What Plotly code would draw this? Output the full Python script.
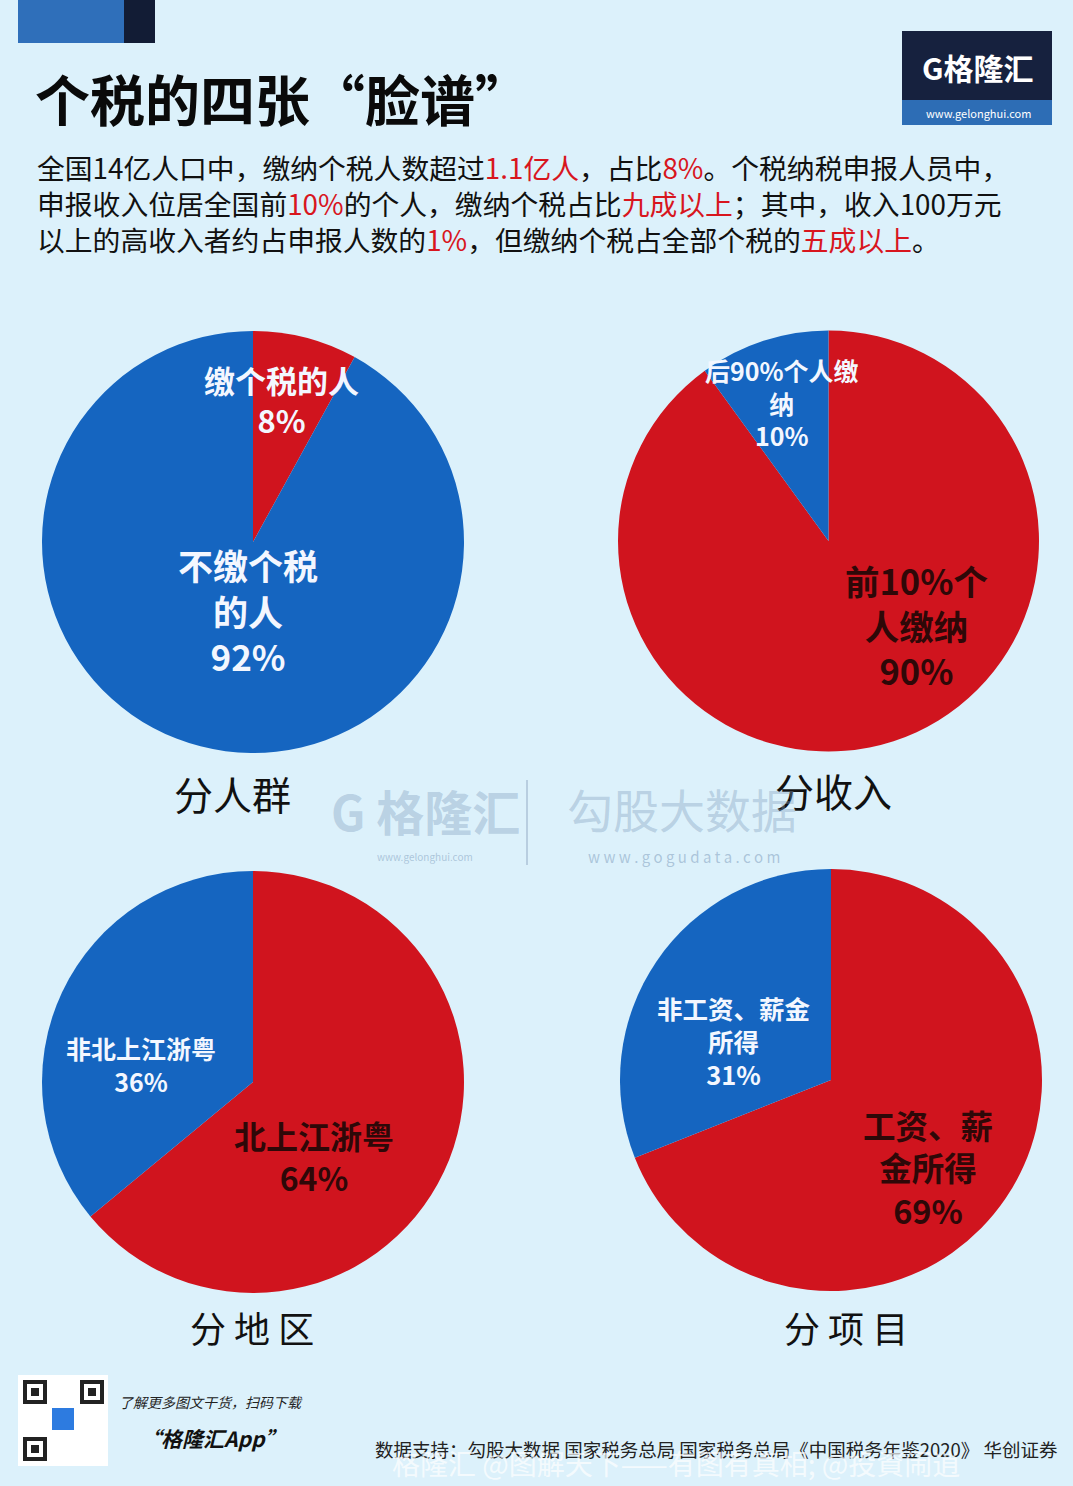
import plotly.graph_objects as go

W, H = 1073, 1486

# ---------------- data ----------------
pie_titles = ["分人群", "分收入", "分地区", "分项目"]
pie1_labels = ["缴个税的人", "不缴个税的人"]
pie1_values = [8, 92]
pie2_labels = ["前10%个人缴纳", "后90%个人缴纳"]
pie2_values = [90, 10]
pie3_labels = ["北上江浙粤", "非北上江浙粤"]
pie3_values = [64, 36]
pie4_labels = ["工资、薪金所得", "非工资、薪金所得"]
pie4_values = [69, 31]

RED = "#d0141e"
BLUE = "#1565c0"
BG = "#dcf1fb"
DARK = "#2e0808"
LIGHT = "#f3f7ff"
FONT = "Noto Sans CJK SC"


def px(x):
    return x / W


def py(y):
    return 1 - y / H


fig = go.Figure()


def add_pie(labels, values, colors, x0, x1, y0, y1):
    fig.add_trace(go.Pie(
        labels=labels, values=values, sort=False, direction="clockwise", rotation=0,
        marker=dict(colors=colors, line=dict(width=0)),
        textinfo="none", hoverinfo="label+percent", showlegend=False,
        domain=dict(x=[px(x0), px(x1)], y=[py(y1), py(y0)]),
    ))


add_pie(pie1_labels, pie1_values, [RED, BLUE], 42, 464, 331, 753)
add_pie(pie2_labels, pie2_values, [RED, BLUE], 618, 1039, 330, 752)
add_pie(pie3_labels, pie3_values, [RED, BLUE], 42, 464, 867, 1297)
add_pie(pie4_labels, pie4_values, [RED, BLUE], 620, 1042, 868, 1292)

shapes = []


def rect(x0, y0, x1, y1, color, line=None):
    shapes.append(dict(type="rect", xref="paper", yref="paper",
                       x0=px(x0), x1=px(x1), y0=py(y1), y1=py(y0),
                       fillcolor=color, line=dict(width=0) if line is None else line,
                       layer="above"))


# header decoration
rect(18, 0, 124, 43, "#2f6fba")
rect(124, 0, 155, 43, "#121c35")
# logo box
rect(902, 31, 1052, 100, "#16213e")
rect(902, 100, 1052, 125, "#2d6db5")
# watermark divider
shapes.append(dict(type="line", xref="paper", yref="paper", x0=px(527), x1=px(527),
                   y0=py(865), y1=py(780), line=dict(color="rgba(140,165,190,0.45)", width=2)))
# QR code placeholder
rect(18, 1375, 108, 1466, "white")
for (qx, qy) in [(23, 1380), (80, 1380), (23, 1437)]:
    rect(qx, qy, qx + 24, qy + 24, "#222")
    rect(qx + 4, qy + 4, qx + 20, qy + 20, "white")
    rect(qx + 8, qy + 8, qx + 16, qy + 16, "#222")
rect(52, 1408, 74, 1430, "#2d7be0")

annotations = []


def text(x, y, s, size, color="#111", bold=False, anchor="center", italic=False, font=FONT,
         align="center"):
    if bold:
        s = "<b>" + s + "</b>"
    if italic:
        s = "<i>" + s + "</i>"
    annotations.append(dict(x=px(x), y=py(y), xref="paper", yref="paper", text=s,
                            showarrow=False, xanchor=anchor, yanchor="middle", align=align,
                            font=dict(family=font, size=size, color=color)))


def red(s):
    return "<span style='color:#d8161e'>" + s + "</span>"


# title + intro
text(33, 97, "个税的四张“脸谱”", 55, "#0a0a0a", bold=True, anchor="left")
intro = ("全国14亿人口中，缴纳个税人数超过" + red("1.1亿人") + "，占比" + red("8%") +
         "。个税纳税申报人员中，<br>"
         "申报收入位居全国前" + red("10%") + "的个人，缴纳个税占比" + red("九成以上") +
         "；其中，收入100万元<br>"
         "以上的高收入者约占申报人数的" + red("1%") + "，但缴纳个税占全部个税的" +
         red("五成以上") + "。")
text(35, 203, intro, 27.8, "#111", anchor="left", align="left")

# logo
text(978, 67, "G格隆汇", 30, "white", bold=True)
text(978, 113, "www.gelonghui.com", 11, "white")

# pie 1 labels
text(281, 399, "缴个税的人<br>8%", 31, LIGHT, bold=True)
text(248, 610, "不缴个税<br>的人<br>92%", 35, LIGHT, bold=True)
# pie 2 labels
text(782, 402, "后90%个人缴<br>纳<br>10%", 25, LIGHT, bold=True)
text(916, 625, "前10%个<br>人缴纳<br>90%", 34.5, DARK, bold=True)
# pie 3 labels
text(141, 1064, "非北上江浙粤<br>36%", 25, LIGHT, bold=True)
text(314, 1156, "北上江浙粤<br>64%", 32, DARK, bold=True)
# pie 4 labels
text(734, 1040, "非工资、薪金<br>所得<br>31%", 25.5, LIGHT, bold=True)
text(928, 1167, "工资、薪<br>金所得<br>69%", 32.5, DARK, bold=True)

# pie captions
text(232, 793, pie_titles[0], 39, "#111")
text(833, 790, pie_titles[1], 39, "#111")
text(252, 1327, " ".join(pie_titles[2]), 36, "#111")
text(846, 1327, " ".join(pie_titles[3]), 36, "#111")

# central watermark
text(425, 810, "G 格隆汇", 48, "rgba(130,160,190,0.40)", bold=True)
text(425, 856, "www.gelonghui.com", 10, "rgba(130,160,190,0.55)")
text(682, 808, "勾股大数据", 46, "rgba(130,160,190,0.40)")
text(684, 856, "w w w . g o g u d a t a . c o m", 15, "rgba(130,160,190,0.55)")

# footer
text(117, 1402, "了解更多图文干货，扫码下载", 14, "#222", italic=True, anchor="left")
text(138, 1438, "“格隆汇App”", 21, "#111", bold=True, italic=True, anchor="left")
text(373, 1449, "数据支持：勾股大数据 国家税务总局 国家税务总局《中国税务年鉴2020》 华创证券",
     18.5, "#222", anchor="left")
text(390, 1463, "格隆汇 @图解天下——有图有真相; @投資闹逍", 28, "rgba(255,255,255,0.7)", anchor="left")

fig.update_layout(
    width=W, height=H, margin=dict(l=0, r=0, t=0, b=0),
    paper_bgcolor=BG, plot_bgcolor=BG,
    shapes=shapes, annotations=annotations,
    font=dict(family=FONT),
)

fig.write_html("out.html")
